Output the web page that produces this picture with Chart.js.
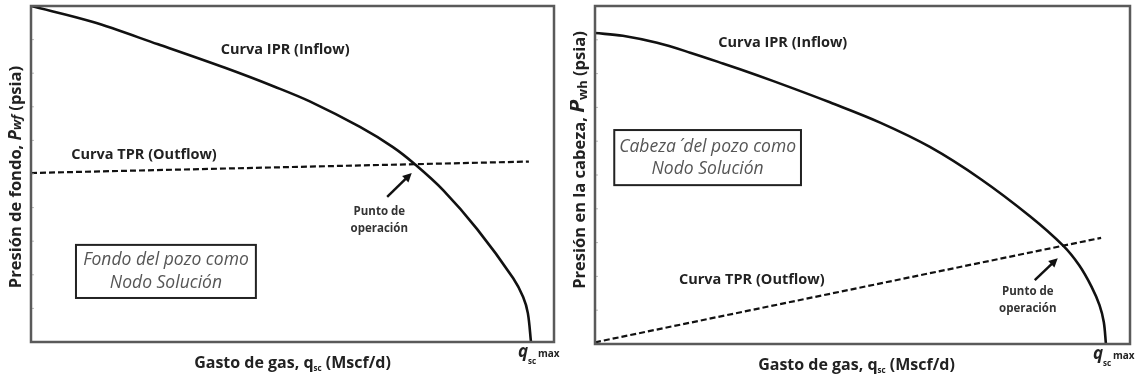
<!DOCTYPE html>
<html>
<head>
<meta charset="utf-8">
<script src="https://cdn.jsdelivr.net/npm/chart.js@4.4.1/dist/chart.umd.min.js"></script>
<style>
html, body { margin: 0; padding: 0; background: #fff; }
#left { position: absolute; left: 0; top: 0; }
#right { position: absolute; left: 570px; top: 0; }
</style>
</head>
<body>
<canvas id="left" width="570" height="381"></canvas>
<canvas id="right" width="573" height="381"></canvas>
<script>
// x = % of q_sc max axis, y = % of pressure axis (no numeric scale in the figure)
var iprFondoX = [0, 11.7, 24.3, 37.1, 46.7, 53.3, 62.9, 69.2, 73.4, 78.8, 85.3, 92.2, 94.1, 95.0, 95.6];
var iprFondoY = [100, 95.3, 88.6, 81.6, 75.9, 71.6, 64.0, 58.0, 52.9, 45.2, 33.6, 19.0, 13.4, 8.6, 0];
var tprFondoX = [0, 95.2];
var tprFondoY = [50.3, 53.7];

var iprCabezaX = [0, 5.2, 11.6, 17.8, 23.9, 30.3, 36.4, 43.9, 53.3, 62.6, 72.0, 81.3, 87.5, 90.5, 92.8, 94.3, 95.1, 95.5];
var iprCabezaY = [92.0, 91.2, 89.1, 86.2, 83.0, 79.5, 76.0, 71.5, 65.5, 58.3, 48.9, 37.8, 29.1, 23.3, 17.0, 11.5, 6.5, 0];
var tprCabezaX = [0, 94.6];
var tprCabezaY = [0.5, 31.4];

var qMaxFondo = 95.6, qMaxCabeza = 95.5;

function pts(xs, ys) {
	var out = [];
	for (var i = 0; i < xs.length; i++) out.push({x: xs[i], y: ys[i]});
	return out;
}

var FONT = '"Open Sans", sans-serif';
var LABEL = 'bold 14.5px ' + FONT;

// draws text made of pieces [text, font, dy], centred on cx
function drawRich(ctx, parts, cx, cy) {
	var w = 0;
	parts.forEach(function(p) { ctx.font = p[1]; w += ctx.measureText(p[0]).width; });
	var x = cx - w / 2;
	ctx.textAlign = 'left';
	ctx.textBaseline = 'middle';
	parts.forEach(function(p) {
		ctx.font = p[1];
		ctx.fillText(p[0], x, cy + (p[2] || 0));
		x += ctx.measureText(p[0]).width;
	});
}

function arrow(ctx, x1, y1, x2, y2) {
	var a = Math.atan2(y2 - y1, x2 - x1);
	ctx.strokeStyle = '#111';
	ctx.fillStyle = '#111';
	ctx.lineWidth = 2.5;
	ctx.beginPath();
	ctx.moveTo(x1, y1);
	ctx.lineTo(x2 - 5 * Math.cos(a), y2 - 5 * Math.sin(a));
	ctx.stroke();
	ctx.beginPath();
	ctx.moveTo(x2, y2);
	ctx.lineTo(x2 - 9 * Math.cos(a) + 4.5 * Math.sin(a), y2 - 9 * Math.sin(a) - 4.5 * Math.cos(a));
	ctx.lineTo(x2 - 9 * Math.cos(a) - 4.5 * Math.sin(a), y2 - 9 * Math.sin(a) + 4.5 * Math.cos(a));
	ctx.closePath();
	ctx.fill();
}

// frame, axis titles and notes drawn on top of the library's chart area
function decor(opt) {
	return {
		id: 'decor',
		afterDraw: function(chart) {
			var ctx = chart.ctx, a = chart.chartArea;
			var sx = chart.scales.x, sy = chart.scales.y;
			var px = function(v) { return sx.getPixelForValue(v); };
			var py = function(v) { return sy.getPixelForValue(v); };
			ctx.save();

			// faint ticks along the pressure axis
			ctx.strokeStyle = '#bbb';
			ctx.lineWidth = 1;
			for (var t = 10; t < 100; t += 10) {
				ctx.beginPath();
				ctx.moveTo(a.left, py(t));
				ctx.lineTo(a.left + 3, py(t));
				ctx.stroke();
			}

			// plot frame
			ctx.strokeStyle = '#5a5a5a';
			ctx.lineWidth = 2.5;
			ctx.strokeRect(a.left, a.top, a.right - a.left, a.bottom - a.top);

			ctx.fillStyle = '#222';
			// curve labels
			drawRich(ctx, [['Curva IPR (Inflow)', LABEL]], px(opt.ipr[0]), py(opt.ipr[1]));
			drawRich(ctx, [['Curva TPR (Outflow)', LABEL]], px(opt.tpr[0]), py(opt.tpr[1]));

			// operating point
			arrow(ctx, px(opt.arrow[0]), py(opt.arrow[1]), px(opt.arrow[2]), py(opt.arrow[3]));
			ctx.fillStyle = '#333';
			drawRich(ctx, [['Punto de', 'bold 11.5px ' + FONT]], px(opt.punto[0]), py(opt.punto[1]));
			drawRich(ctx, [['operación', 'bold 11.5px ' + FONT]], px(opt.punto[0]), py(opt.punto[2]));

			// node box
			var b = opt.box;
			ctx.strokeStyle = '#222';
			ctx.lineWidth = 2;
			ctx.strokeRect(px(b[0]), py(b[1]), px(b[2]) - px(b[0]), py(b[3]) - py(b[1]));
			ctx.fillStyle = '#555';
			var cx = (px(b[0]) + px(b[2])) / 2;
			drawRich(ctx, [[opt.boxText[0], 'italic 17.5px ' + FONT]], cx, py(b[4]));
			drawRich(ctx, [[opt.boxText[1], 'italic 17.5px ' + FONT]], cx, py(b[5]));

			// x axis title
			ctx.fillStyle = '#222';
			var f = 'bold 16px ' + FONT;
			drawRich(ctx, [['Gasto de gas, ', f], ['q', 'bold 16px ' + FONT], ['sc', 'bold 8px ' + FONT, 6], [' (Mscf/d)', f]],
				(a.left + a.right) / 2 + opt.xTitleShift, a.bottom + 21);

			// q_sc max under the end of the IPR curve
			var qx = px(opt.qmax) - 13, qy = a.bottom + 10;
			ctx.textAlign = 'left';
			ctx.textBaseline = 'middle';
			ctx.font = 'bold italic 17px ' + FONT;
			ctx.fillText('q', qx, qy);
			ctx.font = 'bold 8px ' + FONT;
			ctx.fillText('sc', qx + 10, qy + 10);
			ctx.font = 'bold 10px ' + FONT;
			ctx.fillText('max', qx + 20, qy + 2);

			// y axis title, rotated
			ctx.translate(opt.yTitleX, (a.top + a.bottom) / 2 + opt.yTitleShift);
			ctx.rotate(-Math.PI / 2);
			drawRich(ctx, opt.yTitle, 0, 0);
			ctx.restore();
		}
	};
}

function makeChart(id, ipr, tpr, pad, opt) {
	return new Chart(document.getElementById(id), {
		type: 'scatter',
		data: {
			datasets: [{
				label: 'IPR',
				data: ipr,
				showLine: true,
				borderColor: '#111',
				borderWidth: 2.6,
				pointRadius: 0,
				tension: 0.35
			}, {
				label: 'TPR',
				data: tpr,
				showLine: true,
				borderColor: '#111',
				borderWidth: 2.2,
				borderDash: [6, 3],
				pointRadius: 0
			}]
		},
		options: {
			responsive: false,
			animation: false,
			layout: { padding: pad },
			plugins: { legend: { display: false }, tooltip: { enabled: false } },
			scales: {
				x: { type: 'linear', min: 0, max: 100, display: false },
				y: { type: 'linear', min: 0, max: 100, display: false }
			}
		},
		plugins: [decor(opt)]
	});
}

var yf = 'bold 16.5px ' + FONT;

makeChart('left', pts(iprFondoX, iprFondoY), pts(tprFondoX, tprFondoY),
	{ left: 31, right: 16, top: 6, bottom: 39 },
	{
		ipr: [48.6, 86.9], tpr: [21.6, 55.7],
		arrow: [68.1, 43.2, 72.8, 50.3],
		punto: [66.6, 38.7, 33.6],
		box: [8.6, 28.9, 43.0, 13.1, 24.4, 17.6],
		boxText: ['Fondo del pozo como', 'Nodo Solución'],
		qmax: qMaxFondo, xTitleShift: 0, yTitleX: 16, yTitleShift: 3,
		yTitle: [['Presión de fondo, ', yf], ['P', 'bold italic 17px ' + FONT], ['wf', 'bold italic 13px ' + FONT, 1], [' (psia)', yf]]
	});

makeChart('right', pts(iprCabezaX, iprCabezaY), pts(tprCabezaX, tprCabezaY),
	{ left: 25, right: 13, top: 6, bottom: 37 },
	{
		ipr: [35.1, 89.1], tpr: [29.3, 18.9],
		arrow: [82.2, 18.9, 86.5, 25.4],
		punto: [80.9, 15.4, 10.4],
		box: [3.6, 63.3, 38.5, 47.0, 58.3, 51.8],
		boxText: ['Cabeza\u2009\u00B4 del pozo como', 'Nodo Solución'],
		qmax: qMaxCabeza, xTitleShift: -6, yTitleX: 10, yTitleShift: -15,
		yTitle: [['Presión en la cabeza, ', yf], ['P', 'bold italic 21px ' + FONT, -2], ['wh', 'bold 13px ' + FONT, 3], [' (psia)', yf]]
	});
</script>
</body>
</html>
